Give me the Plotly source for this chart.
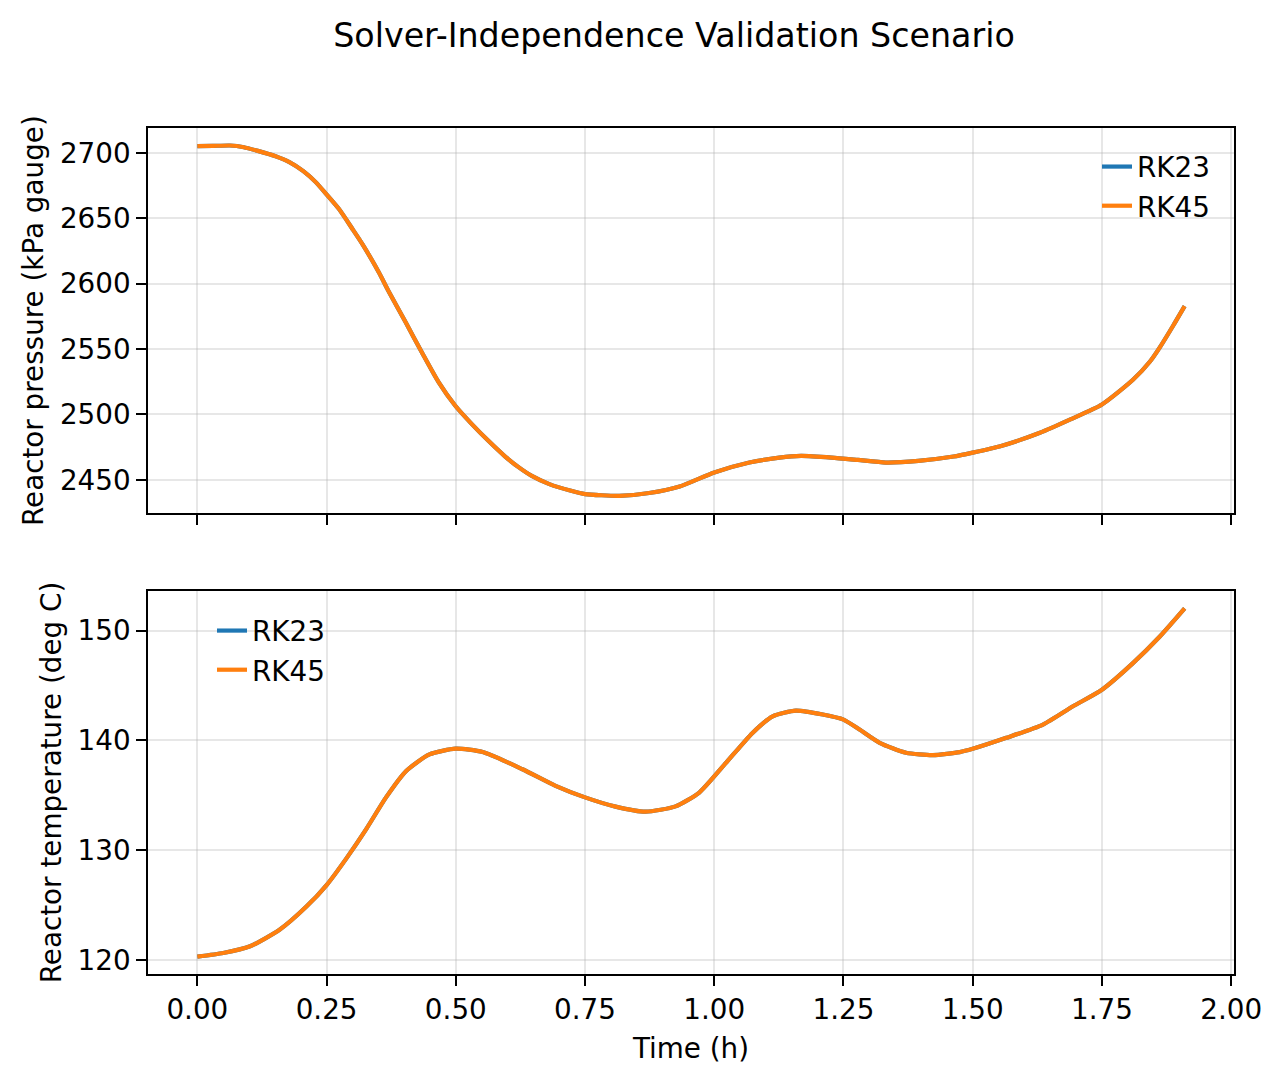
import plotly.graph_objects as go

# ---------------- data ----------------
time_pressure_h = [0.0, 0.03, 0.063, 0.09, 0.117, 0.15, 0.178, 0.205, 0.229, 0.249,
                   0.274, 0.3, 0.319, 0.351, 0.371, 0.403, 0.435, 0.467, 0.499, 0.531,
                   0.563, 0.595, 0.622, 0.647, 0.681, 0.723, 0.75, 0.816, 0.874, 0.933,
                   1.0, 1.068, 1.126, 1.168, 1.227, 1.278, 1.332, 1.395, 1.463, 1.5,
                   1.555, 1.63, 1.689, 1.75, 1.81, 1.843, 1.862, 1.888, 1.91]
pressure_rk45 = [2705.1, 2705.3, 2705.6, 2704.3, 2701.5, 2697.6, 2692.9, 2686.0, 2677.6, 2668.6,
                 2657.0, 2641.8, 2630.4, 2608.7, 2593.4, 2570.4, 2547.0, 2524.5, 2506.6, 2492.6,
                 2479.8, 2468.0, 2459.5, 2453.0, 2446.7, 2441.6, 2439.1, 2437.8, 2439.9, 2444.9,
                 2455.6, 2463.2, 2467.0, 2468.3, 2467.0, 2465.2, 2463.2, 2464.5, 2467.8, 2470.8,
                 2475.9, 2486.0, 2496.2, 2507.6, 2526.5, 2540.5, 2551.3, 2568.0, 2582.8]
pressure_rk23 = list(pressure_rk45)

time_temperature_h = [0.0, 0.05, 0.102, 0.159, 0.211, 0.25, 0.288, 0.327, 0.365, 0.404,
                      0.449, 0.5, 0.552, 0.629, 0.693, 0.75, 0.809, 0.867, 0.925, 0.971,
                      1.023, 1.074, 1.113, 1.158, 1.21, 1.25, 1.281, 1.32, 1.371, 1.423,
                      1.475, 1.5, 1.565, 1.636, 1.694, 1.75, 1.81, 1.862, 1.91]
temperature_rk45 = [120.33, 120.66, 121.27, 122.77, 124.88, 126.84, 129.25, 131.96, 134.82, 137.23,
                    138.73, 139.25, 138.95, 137.38, 135.87, 134.82, 133.98, 133.52, 134.0, 135.26,
                    137.98, 140.69, 142.2, 142.72, 142.36, 141.9, 141.0, 139.79, 138.88, 138.67,
                    138.94, 139.24, 140.24, 141.45, 143.11, 144.62, 147.04, 149.46, 152.02]
temperature_rk23 = list(temperature_rk45)

series_names = ["RK23", "RK45"]
series_colors = ["#1f77b4", "#ff7f0e"]

title_text = "Solver-Independence Validation Scenario"
pressure_label = "Reactor pressure (kPa gauge)"
temperature_label = "Reactor temperature (deg C)"
time_label = "Time (h)"


def padded(vals, frac=0.05):
    lo, hi = min(vals), max(vals)
    span = hi - lo
    return [lo - frac * span, hi + frac * span]


FONT = "DejaVu Sans"
FS = 27.8
W, H = 1282, 1083

fig = go.Figure()
for name, color, vals in zip(series_names, series_colors, [pressure_rk23, pressure_rk45]):
    fig.add_trace(go.Scatter(x=time_pressure_h, y=vals, mode="lines", name=name,
                             line=dict(color=color, width=4.2, shape="spline", smoothing=0.6),
                             xaxis="x", yaxis="y", legend="legend"))
for name, color, vals in zip(series_names, series_colors, [temperature_rk23, temperature_rk45]):
    fig.add_trace(go.Scatter(x=time_temperature_h, y=vals, mode="lines", name=name,
                             line=dict(color=color, width=4.2, shape="spline", smoothing=0.6),
                             xaxis="x2", yaxis="y2", legend="legend2"))

xr = padded(time_pressure_h + time_temperature_h)
axis_common = dict(showline=True, linecolor="black", linewidth=2.2, mirror=True,
                   ticks="outside", ticklen=9.7, tickwidth=2.2, tickcolor="black",
                   showgrid=True, gridcolor="rgba(176,176,176,0.3)", gridwidth=2.2,
                   zeroline=False, tickfont=dict(family=FONT, size=FS, color="black"))

m_l, m_r, m_t, m_b = 148, 48, 128, 109
pw = W - m_l - m_r
ph = H - m_t - m_b
bottom_px = H - m_b


def px_x(px):
    return (px - m_l) / pw


def px_y(py):
    return (bottom_px - py) / ph


fig.update_layout(
    width=W, height=H,
    margin=dict(l=m_l, r=m_r, t=m_t, b=m_b, autoexpand=False),
    paper_bgcolor="white", plot_bgcolor="white",
    font=dict(family=FONT, size=FS, color="black"),
    title=dict(text=title_text, font=dict(family=FONT, size=33.3, color="black"),
               xref="container", yref="container", x=674 / W, y=1 - 35 / H,
               xanchor="center", yanchor="middle"),
    xaxis=dict(domain=[0, 1], range=xr, tick0=0, dtick=0.25, showticklabels=False,
               anchor="y", **axis_common),
    yaxis=dict(domain=[px_y(513.3), 1], range=padded(pressure_rk45), dtick=50,
               anchor="x", ticklabelstandoff=0,
               title=dict(text=pressure_label, standoff=8, font=dict(family=FONT, size=FS)),
               **axis_common),
    xaxis2=dict(domain=[0, 1], range=xr, tick0=0, dtick=0.25, tickformat=".2f",
                anchor="y2", ticklabelstandoff=0,
                title=dict(text=time_label, standoff=13, font=dict(family=FONT, size=FS)),
                **axis_common),
    yaxis2=dict(domain=[0, px_y(591)], range=padded(temperature_rk45), dtick=10,
                anchor="x2", ticklabelstandoff=0,
                title=dict(text=temperature_label, standoff=8, font=dict(family=FONT, size=FS)),
                **axis_common),
    legend=dict(x=px_x(1097), y=px_y(142), xanchor="left", yanchor="top",
                bgcolor="rgba(0,0,0,0)",
                font=dict(family=FONT, size=FS, color="black")),
    legend2=dict(x=px_x(212), y=px_y(606), xanchor="left", yanchor="top",
                 bgcolor="rgba(0,0,0,0)",
                 font=dict(family=FONT, size=FS, color="black")),
)

fig.write_html("out.html")
